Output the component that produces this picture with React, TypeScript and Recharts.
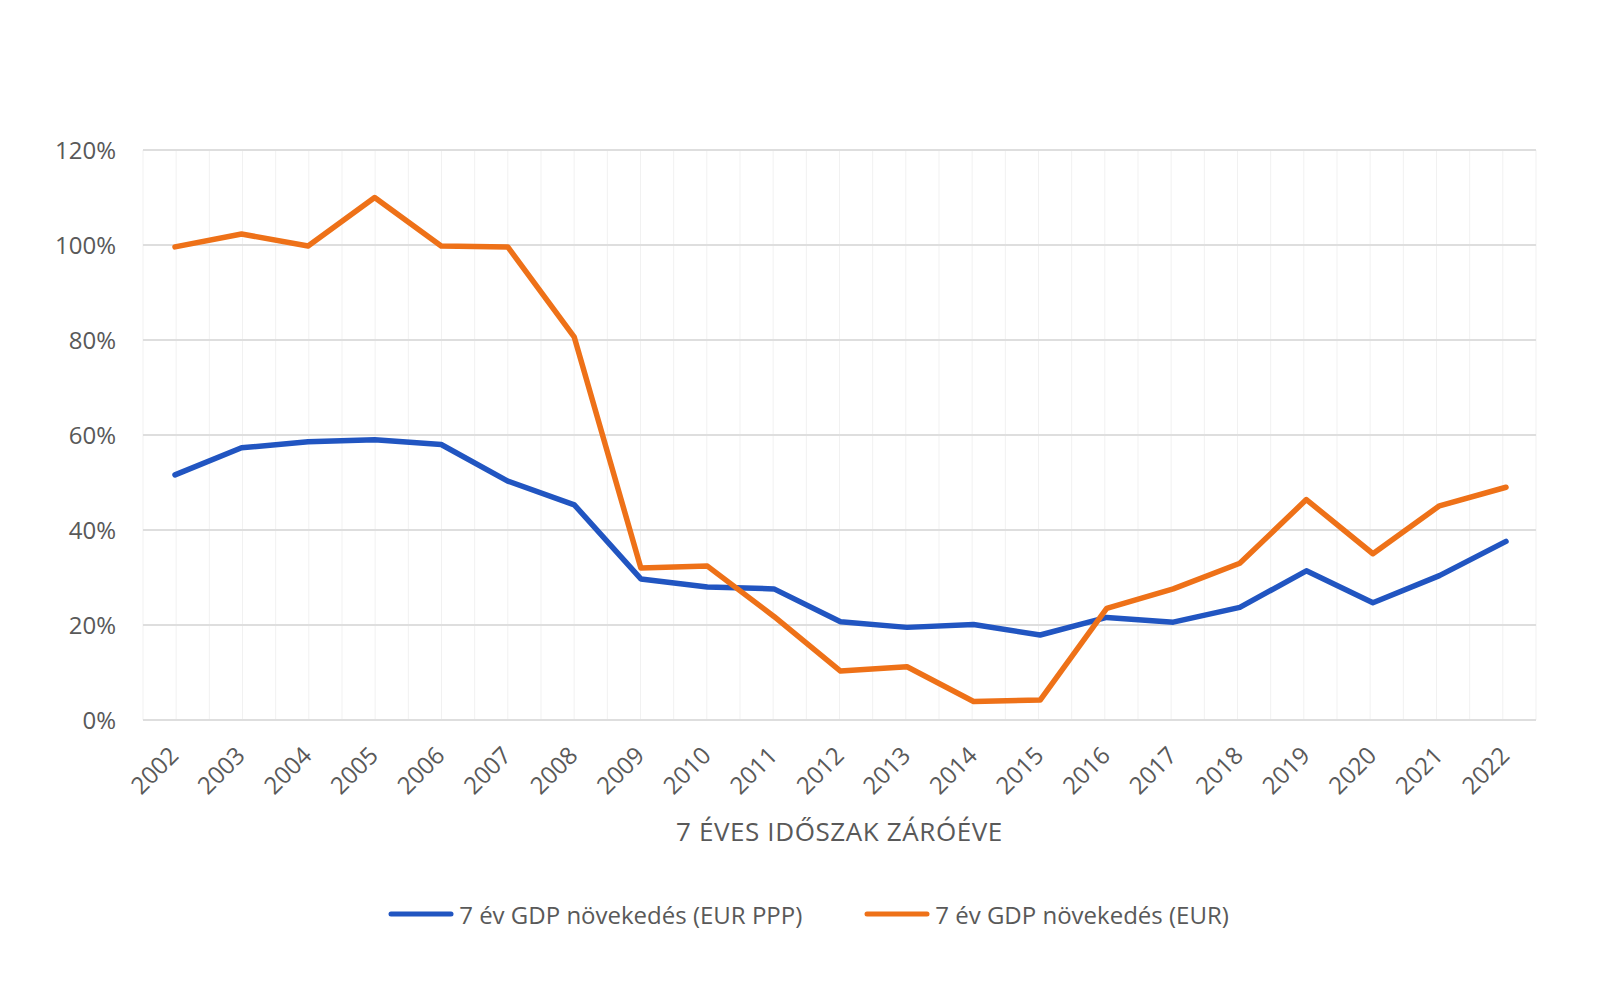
import React from "react";
import {
  LineChart,
  Line,
  XAxis,
  YAxis,
  CartesianGrid,
  Legend,
} from "recharts";

const years = [
  "2002", "2003", "2004", "2005", "2006", "2007", "2008", "2009", "2010", "2011", "2012",
  "2013", "2014", "2015", "2016", "2017", "2018", "2019", "2020", "2021", "2022",
];

// 7 év GDP növekedés (EUR PPP), %
const pppGrowth = [
  51.6, 57.3, 58.6, 59.0, 58.0, 50.3, 45.3, 29.7, 28.0, 27.6, 20.7,
  19.5, 20.1, 17.9, 21.6, 20.6, 23.7, 31.4, 24.7, 30.4, 37.6,
];

// 7 év GDP növekedés (EUR), %
const eurGrowth = [
  99.6, 102.3, 99.8, 110.0, 99.8, 99.6, 80.6, 32.0, 32.4, 21.8, 10.3,
  11.2, 3.9, 4.2, 23.5, 27.6, 33.0, 46.4, 35.0, 45.1, 49.0,
];

const yTicks = [0, 20, 40, 60, 80, 100, 120];

const seriesNames = ["7 év GDP növekedés (EUR PPP)", "7 év GDP növekedés (EUR)"];
const axisTitle = "7 ÉVES IDŐSZAK ZÁRÓÉVE";

const BLUE = "#2155c1";
const ORANGE = "#ee7118";
const TEXT = "#595959";
const FONT = "'Open Sans', sans-serif";

const data = years.map((year, i) => ({
  year,
  ppp: pppGrowth[i],
  eur: eurGrowth[i],
}));

function YearTick(props: any) {
  const { x, payload } = props;
  const ax = x + 5;
  const ay = 757;
  return (
    <text
      x={ax}
      y={ay}
      textAnchor="end"
      fill={TEXT}
      fontSize={24}
      fontFamily={FONT}
      transform={`rotate(-45, ${ax}, ${ay})`}
    >
      {payload.value}
    </text>
  );
}

function AxisTitle(props: any) {
  const { viewBox } = props;
  return (
    <text
      x={viewBox.x + viewBox.width / 2}
      y={viewBox.y + 121}
      textAnchor="middle"
      fill={TEXT}
      fontSize={26}
      letterSpacing={0.6}
      fontFamily={FONT}
    >
      {axisTitle}
    </text>
  );
}

function LegendContent() {
  const items = [
    { name: seriesNames[0], color: BLUE },
    { name: seriesNames[1], color: ORANGE },
  ];
  return (
    <div
      style={{
        display: "flex",
        justifyContent: "center",
        alignItems: "center",
        gap: 62,
        height: 40,
        fontFamily: FONT,
        fontSize: 24,
        color: TEXT,
      }}
    >
      {items.map((it) => (
        <div key={it.name} style={{ display: "flex", alignItems: "center" }}>
          <svg width={66} height={10} style={{ marginRight: 5 }}>
            <line x1={3} y1={5} x2={63} y2={5} stroke={it.color} strokeWidth={5} strokeLinecap="round" />
          </svg>
          <span>{it.name}</span>
        </div>
      ))}
    </div>
  );
}

export default function App() {
  return (
    <div style={{ position: "absolute", left: 0, top: 0, width: 1617, height: 992, background: "#fff" }}>
      <LineChart
        width={1617}
        height={992}
        data={data}
        margin={{ top: 150, right: 81, left: 0, bottom: 58 }}
      >
        <CartesianGrid
          horizontal={false}
          stroke="#f1f1f1"
          strokeWidth={1}
          verticalCoordinatesGenerator={({ offset }: any) =>
            Array.from({ length: 43 }, (_, i) => offset.left + (i * offset.width) / 42)
          }
        />
        <CartesianGrid vertical={false} stroke="#dedede" strokeWidth={2} />
        <XAxis
          dataKey="year"
          height={174}
          padding={{ left: 32, right: 30 }}
          tick={<YearTick />}
          tickLine={false}
          axisLine={false}
          interval={0}
          label={<AxisTitle />}
        />
        <YAxis
          width={143}
          domain={[0, 120]}
          ticks={yTicks}
          tickFormatter={(v) => `${v}%`}
          tick={{ fill: TEXT, fontSize: 24, fontFamily: FONT }}
          tickLine={false}
          axisLine={false}
          tickSize={0}
          tickMargin={27}
        />
        <Legend
          verticalAlign="bottom"
          content={<LegendContent />}
          wrapperStyle={{ left: 0, width: 1617 }}
        />
        <Line
          type="linear"
          dataKey="ppp"
          name={seriesNames[0]}
          stroke={BLUE}
          strokeWidth={5.5}
          strokeLinejoin="round"
          strokeLinecap="round"
          dot={false}
          isAnimationActive={false}
        />
        <Line
          type="linear"
          dataKey="eur"
          name={seriesNames[1]}
          stroke={ORANGE}
          strokeWidth={5.5}
          strokeLinejoin="round"
          strokeLinecap="round"
          dot={false}
          isAnimationActive={false}
        />
      </LineChart>
    </div>
  );
}
